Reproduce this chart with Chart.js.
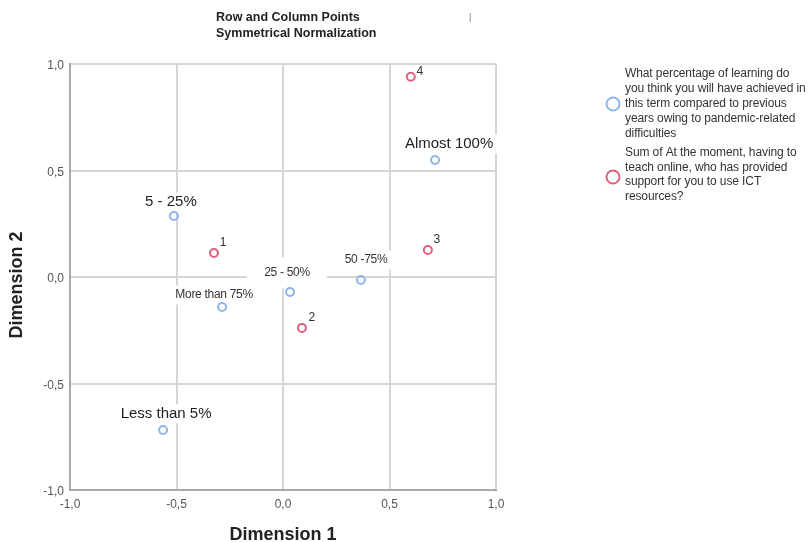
<!DOCTYPE html>
<html>
<head>
<meta charset="utf-8">
<script src="https://cdn.jsdelivr.net/npm/chart.js@4"></script>
<style>
  html, body { margin: 0; padding: 0; background: #ffffff; }
  #wrap { width: 808px; height: 542px; }
</style>
</head>
<body>
<div id="wrap"><canvas id="chart" width="808" height="542"></canvas></div>
<script>
// Row points: learning achieved this term
const rowLabels = ['Less than 5%', '5 - 25%', '25 - 50%', '50 -75%', 'More than 75%', 'Almost 100%'];
const rowDim1 = [-0.563, -0.512, 0.033, 0.366, -0.286, 0.714];
const rowDim2 = [-0.718, 0.286, -0.070, -0.014, -0.141, 0.549];

// Column points: who provided ICT support
const colLabels = ['1', '2', '3', '4'];
const colDim1 = [-0.324, 0.089, 0.680, 0.600];
const colDim2 = [0.113, -0.239, 0.127, 0.940];

// Axis ticks
const tickValues = [-1.0, -0.5, 0.0, 0.5, 1.0];

const rowLegend = ['What percentage of learning do', 'you think you will have achieved in',
  'this term compared to previous', 'years owing to pandemic-related', 'difficulties'];
const colLegend = ['Sum of At the moment, having to', 'teach online, who has provided',
  'support for you to use ICT', 'resources?'];

// Label placement (pixel offsets from each point), text sizes and backing-box padding
const rowLabelOffsets = [[3, -16], [-3, -14], [-3, -19], [5, -20], [-8, -12], [14, -16]];
const rowLabelSizes = [15, 15, 12, 12, 12, 15];
const rowLabelPad = [[4, 0], [4, 0], [16, 6], [4, 0], [4, 0], [4, 0]];
const colLabelOffsets = [[9, -10], [10, -10], [9, -10], [9, -5]];

const BLUE = '#8db6ec';
const RED = '#e2607c';
const FONT = '"Liberation Sans", Arial, sans-serif';

const fmt = v => v.toFixed(1).replace('.', ',');

const pointLabels = {
  id: 'pointLabels',
  beforeDatasetsDraw(chart) {
    const ctx = chart.ctx;
    const meta = chart.getDatasetMeta(0);
    ctx.save();
    meta.data.forEach((pt, i) => {
      const size = rowLabelSizes[i];
      ctx.font = size + 'px ' + FONT;
      const w = ctx.measureText(rowLabels[i]).width;
      const cx = pt.x + rowLabelOffsets[i][0];
      const cy = pt.y + rowLabelOffsets[i][1];
      const px = rowLabelPad[i][0], py = rowLabelPad[i][1];
      ctx.fillStyle = '#ffffff';
      ctx.fillRect(cx - w / 2 - px, cy - 9.5 - py, w + 2 * px, 19 + 2 * py);
    });
    ctx.restore();
  },
  afterDatasetsDraw(chart) {
    const ctx = chart.ctx;
    ctx.save();
    ctx.textAlign = 'center';
    ctx.textBaseline = 'middle';
    chart.getDatasetMeta(0).data.forEach((pt, i) => {
      const size = rowLabelSizes[i];
      ctx.font = size + 'px ' + FONT;
      ctx.fillStyle = size > 13 ? '#1e1e1e' : '#333333';
      ctx.letterSpacing = size <= 13 ? '-0.3px' : '0px';
      ctx.fillText(rowLabels[i], pt.x + rowLabelOffsets[i][0], pt.y + rowLabelOffsets[i][1]);
    });
    ctx.letterSpacing = '0px';
    ctx.font = '12px ' + FONT;
    ctx.fillStyle = '#333333';
    chart.getDatasetMeta(1).data.forEach((pt, i) => {
      ctx.fillText(colLabels[i], pt.x + colLabelOffsets[i][0], pt.y + colLabelOffsets[i][1]);
    });
    ctx.restore();
  }
};

const decorations = {
  id: 'decorations',
  afterDraw(chart) {
    const ctx = chart.ctx;
    const area = chart.chartArea;
    ctx.save();
    // Title
    ctx.fillStyle = '#222222';
    ctx.textAlign = 'left';
    ctx.textBaseline = 'middle';
    ctx.font = 'bold 12.5px ' + FONT;
    ctx.fillText('Row and Column Points', 216, 18);
    ctx.fillText('Symmetrical Normalization', 216, 34);
    ctx.font = '9px ' + FONT;
    ctx.fillStyle = '#777777';
    ctx.fillText('|', 469, 18);

    // Axis titles
    ctx.fillStyle = '#222222';
    ctx.font = 'bold 18px ' + FONT;
    ctx.textAlign = 'center';
    ctx.fillText('Dimension 1', (area.left + area.right) / 2, 535);
    ctx.save();
    ctx.translate(17, 285);
    ctx.rotate(-Math.PI / 2);
    ctx.fillText('Dimension 2', 0, 0);
    ctx.restore();

    // Legend
    ctx.lineWidth = 2;
    ctx.strokeStyle = BLUE;
    ctx.beginPath();
    ctx.arc(613, 104, 6.5, 0, Math.PI * 2);
    ctx.stroke();
    ctx.strokeStyle = RED;
    ctx.beginPath();
    ctx.arc(613, 177, 6.5, 0, Math.PI * 2);
    ctx.stroke();

    ctx.textAlign = 'left';
    ctx.fillStyle = '#333333';
    ctx.font = '12px ' + FONT;
    ctx.letterSpacing = '-0.1px';
    rowLegend.forEach((line, i) => ctx.fillText(line, 625, 74 + i * 15));
    colLegend.forEach((line, i) => ctx.fillText(line, 625, 153 + i * 14.5));
    ctx.restore();
  }
};

new Chart(document.getElementById('chart'), {
  type: 'scatter',
  data: {
    datasets: [
      {
        label: 'Learning achieved',
        data: rowDim1.map((x, i) => ({ x, y: rowDim2[i] })),
        borderColor: BLUE,
        backgroundColor: 'rgba(255,255,255,0)',
        borderWidth: 2,
        pointRadius: 4,
        pointHoverRadius: 4
      },
      {
        label: 'ICT support',
        data: colDim1.map((x, i) => ({ x, y: colDim2[i] })),
        borderColor: RED,
        backgroundColor: 'rgba(255,255,255,0)',
        borderWidth: 2,
        pointRadius: 4,
        pointHoverRadius: 4
      }
    ]
  },
  options: {
    responsive: false,
    animation: false,
    devicePixelRatio: 1,
    layout: { padding: { top: 64, right: 312, left: 0, bottom: 0 } },
    plugins: {
      legend: { display: false },
      tooltip: { enabled: false },
      title: { display: false }
    },
    scales: {
      x: {
        type: 'linear',
        min: -1,
        max: 1,
        afterBuildTicks: s => { s.ticks = tickValues.map(v => ({ value: v })); },
        afterFit: s => { s.height = 52; },
        ticks: {
          callback: v => fmt(v),
          color: '#555555',
          font: { family: FONT, size: 12 },
          padding: 7,
          maxRotation: 0
        },
        grid: { color: '#d6d6d6', lineWidth: 2, drawTicks: false },
        border: { display: true, color: '#a8a8a8', width: 2 }
      },
      y: {
        type: 'linear',
        min: -1,
        max: 1,
        afterBuildTicks: s => { s.ticks = tickValues.map(v => ({ value: v })); },
        afterFit: s => { s.width = 70; },
        ticks: {
          callback: v => fmt(v),
          color: '#555555',
          font: { family: FONT, size: 12 },
          padding: 6,
          labelOffset: 2
        },
        grid: { color: '#d6d6d6', lineWidth: 2, drawTicks: false },
        border: { display: true, color: '#a8a8a8', width: 2 }
      }
    }
  },
  plugins: [pointLabels, decorations]
});
</script>
</body>
</html>
